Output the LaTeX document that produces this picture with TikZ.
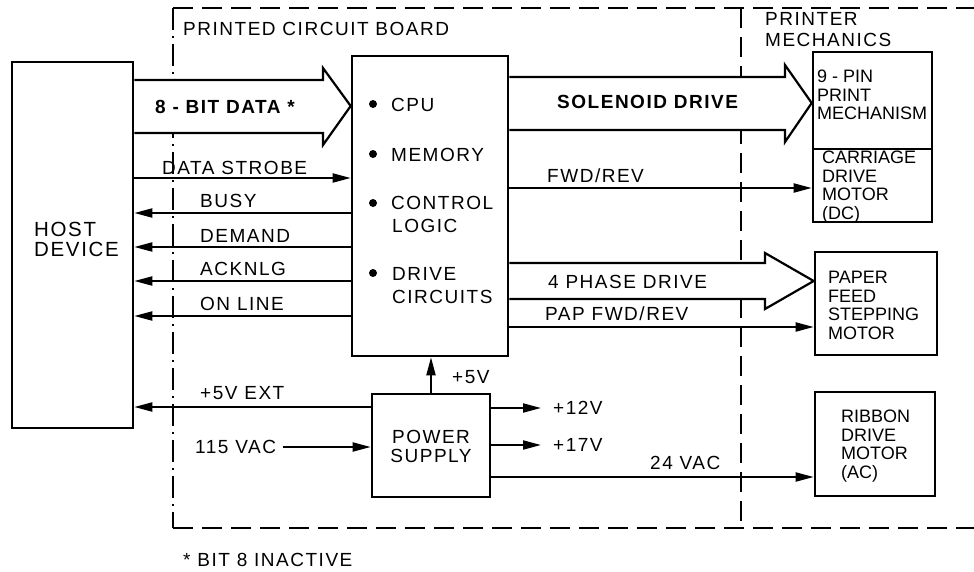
\documentclass[tikz,border=0pt]{standalone}
\usepackage{fontspec}
\setmainfont{Liberation Sans}
\newfontfamily\lf{Liberation Sans}[LetterSpace=8]
\usetikzlibrary{arrows.meta,calc}
\begin{document}
\begin{tikzpicture}[x=1pt,y=-1pt,
  box/.style={draw,line width=2.6pt,inner sep=0pt},
  sig/.style={line width=2pt,-{Triangle[length=18pt,width=9pt]}},
  fat/.style={line width=2.2pt,line join=miter,fill=white},
  lab/.style={font=\lf\fontsize{19}{20}\selectfont,inner sep=0pt,anchor=west},
  blab/.style={font=\lf\bfseries\fontsize{19}{20}\selectfont,inner sep=0pt,anchor=west},
  mtxt/.style={font=\fontsize{18}{18.5}\selectfont,align=left,inner sep=0pt,anchor=north west},
  frame/.style={line width=2.4pt,dash pattern=on 20pt off 9pt},
  frameL/.style={line width=2.4pt,dash pattern=on 22pt off 6pt on 2pt off 6pt},
  dot/.style={circle,fill,inner sep=0pt,minimum size=8pt}
]
\useasboundingbox (0,0) rectangle (974,571);
\fill[white] (0,0) rectangle (974,571);

% dashed frame
\coordinate (ftl) at (173,8);
\coordinate (ftr) at (974,8);
\coordinate (fbl) at (173,528);
\coordinate (fbr) at (974,528);
\coordinate (dtop) at (741,8);
\coordinate (dbot) at (741,528);
\draw[frame] (ftl) -- (ftr);
\draw[frame] (fbl) -- (fbr);
\draw[frameL] (ftl) -- (fbl);
\draw[frame] (dtop) -- (dbot);
\node[lab] (pcb) at (183,29) {PRINTED CIRCUIT BOARD};
\node[lab,anchor=north west,align=left,font=\lf\fontsize{19}{21.5}\selectfont] (pmech) at (765,12) {PRINTER\\MECHANICS};

% boxes
\node[box,minimum width=121pt,minimum height=366pt] (host) at (72.5,245) {};
\node[font=\lf\fontsize{20.5}{20}\selectfont,align=left,anchor=west,inner sep=0pt] (hostt) at (34,239) {HOST\\DEVICE};

\node[box,minimum width=156pt,minimum height=300pt] (cpu) at (430,206) {};
\node[dot] (d1) at (373,104) {};
\node[dot] (d2) at (373,154) {};
\node[dot] (d3) at (373,203) {};
\node[dot] (d4) at (373,273) {};
\node[lab] (t1) at (391,105) {CPU};
\node[lab] (t2) at (391,155) {MEMORY};
\node[lab] (t3) at (391,203) {CONTROL};
\node[lab] (t4) at (392,226) {LOGIC};
\node[lab] (t5) at (392,274) {DRIVE};
\node[lab] (t6) at (392,297) {CIRCUITS};

\node[box,minimum width=119pt,minimum height=170pt] (mech) at (872.5,137) {};
\draw[line width=2pt] (mech.west |- 0,149) -- (mech.east |- 0,149);
\node[mtxt] (mt1) at (817,70) {9 - PIN\\PRINT\\MECHANISM};
\node[mtxt] (mt2) at (822,151) {CARRIAGE\\DRIVE\\MOTOR\\(DC)};

\node[box,minimum width=122pt,minimum height=103pt] (paper) at (876,303.5) {};
\node[mtxt] (pt) at (828,271) {PAPER\\FEED\\STEPPING\\MOTOR};

\node[box,minimum width=120pt,minimum height=104pt] (ribbon) at (875,444) {};
\node[mtxt] (rt) at (841,410) {RIBBON\\DRIVE\\MOTOR\\(AC)};

\node[box,minimum width=118pt,minimum height=103pt] (psu) at (431,445.5) {};
\node[font=\lf\fontsize{19}{19}\selectfont,align=center,inner sep=0pt] (pst) at (431,446) {POWER\\SUPPLY};

% fat arrows (white-filled, open at the tail)
\draw[fat] (host.east |- 0,80) -- (323,80) -- (323,68) -- (cpu.west |- 0,106) -- (323,145) -- (323,133) -- (host.east |- 0,133);
\node[blab] (l8) at (155,107) {8 - BIT DATA *};

\draw[fat] (cpu.east |- 0,77) -- (785,77) -- (785,65) -- (mech.west |- 0,103) -- (785,142) -- (785,130) -- (cpu.east |- 0,130);
\node[blab] (lsol) at (557,102) {SOLENOID DRIVE};

\draw[fat] (cpu.east |- 0,263) -- (765,263) -- (765,253) -- (paper.west |- 0,281) -- (765,309) -- (765,299) -- (cpu.east |- 0,299);
\node[lab] (l4p) at (548,282) {4 PHASE DRIVE};

% host interface
\draw[sig] (host.east |- 0,178) -- (cpu.west |- 0,178);
\node[lab] (lds) at (162,168) {DATA STROBE};
\draw[sig] (cpu.west |- 0,213) -- (host.east |- 0,213);
\node[lab] (lbusy) at (200,201) {BUSY};
\draw[sig] (cpu.west |- 0,247) -- (host.east |- 0,247);
\node[lab] (ldem) at (200,236) {DEMAND};
\draw[sig] (cpu.west |- 0,281) -- (host.east |- 0,281);
\node[lab] (lack) at (200,269) {ACKNLG};
\draw[sig] (cpu.west |- 0,316) -- (host.east |- 0,316);
\node[lab] (lon) at (200,304) {ON LINE};

% mechanics signals
\draw[sig] (cpu.east |- 0,188) -- (mech.west |- 0,188);
\node[lab] (lfwd) at (547,176) {FWD/REV};
\draw[sig] (cpu.east |- 0,327) -- (paper.west |- 0,327);
\node[lab] (lpap) at (545,314) {PAP FWD/REV};

% power
\draw[sig] (psu.north) -- (psu.north |- cpu.south);
\node[lab] (l5v) at (452,377) {+5V};
\draw[sig] (psu.west |- 0,407) -- (host.east |- 0,407);
\node[lab] (l5ext) at (200,393) {+5V EXT};
\node[lab] (lvac) at (195,447) {115 VAC};
\draw[sig] ([xshift=7pt]lvac.east) -- (psu.west |- lvac.east);
\node[lab] (l12) at (553,408) {+12V};
\draw[sig] (psu.east |- l12.west) -- ([xshift=-12pt]l12.west);
\node[lab] (l17) at (553,445) {+17V};
\draw[sig] (psu.east |- l17.west) -- ([xshift=-12pt]l17.west);
\draw[sig] (psu.east |- 0,477) -- (ribbon.west |- 0,477);
\node[lab] (l24) at (650,463) {24 VAC};

\node[lab] (foot) at (183,560) {* BIT 8 INACTIVE};
\end{tikzpicture}
\end{document}
